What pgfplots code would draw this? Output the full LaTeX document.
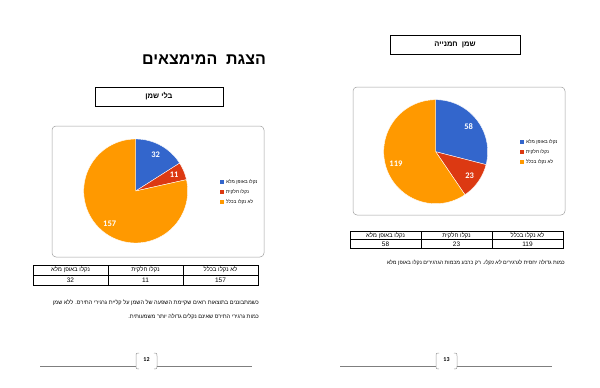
\documentclass[border=0pt]{standalone}
\usepackage{pgfplots}
\pgfplotsset{compat=1.18}
\usepackage{pgfplotstable}
\usepackage{fontspec}
\setmainfont{Liberation Sans}
\newfontfamily\heb[Script=Hebrew]{Liberation Sans}
\newfontfamily\carl{Carlito}
\TeXXeTstate=1
\definecolor{cblue}{HTML}{3366CC}
\definecolor{cred}{HTML}{DC3912}
\definecolor{corange}{HTML}{FF9900}
\definecolor{framegray}{HTML}{A0A0A0}
\definecolor{linegray}{HTML}{7F7F7F}

\pgfplotstableread{
cat value
1 32
2 11
3 157
}\leftdata
\pgfplotstableread{
cat value
1 58
2 23
3 119
}\rightdata

\newcommand{\drawpie}[3]{%
 \pgfplotstablegetelem{0}{value}\of#1\edef\pieA{\pgfplotsretval}%
 \pgfplotstablegetelem{1}{value}\of#1\edef\pieB{\pgfplotsretval}%
 \pgfplotstablegetelem{2}{value}\of#1\edef\pieC{\pgfplotsretval}%
 \pgfmathsetmacro\pieT{\pieA+\pieB+\pieC}%
 \pgfmathsetmacro\endA{90-360*(\pieA/\pieT)}%
 \pgfmathsetmacro\endB{\endA-360*(\pieB/\pieT)}%
 \pgfmathsetmacro\midA{(90+\endA)/2}%
 \pgfmathsetmacro\midB{(\endA+\endB)/2}%
 \pgfmathsetmacro\midC{(\endB-270)/2}%
 \begin{axis}[at={(#2pt,-#3pt)}, anchor=center, scale only axis,
   width=104pt, height=104pt, xmin=-1, xmax=1, ymin=-1, ymax=1,
   hide axis, clip=false]
  \addplot[fill=cblue, draw=white, line width=0.4pt, domain=\endA:90, samples=60] ({cos(x)},{sin(x)}) -- (axis cs:0,0) -- cycle;
  \addplot[fill=cred, draw=white, line width=0.4pt, domain=\endB:\endA, samples=40] ({cos(x)},{sin(x)}) -- (axis cs:0,0) -- cycle;
  \addplot[fill=corange, draw=white, line width=0.4pt, domain=-270:\endB, samples=120] ({cos(x)},{sin(x)}) -- (axis cs:0,0) -- cycle;
  \node[font=\carl\bfseries\fontsize{8.5}{9}\selectfont, text=white] at (axis cs:{0.8*cos(\midA)},{0.8*sin(\midA)}) {\pieA};
  \node[font=\carl\bfseries\fontsize{8.5}{9}\selectfont, text=white] at (axis cs:{0.8*cos(\midB)},{0.8*sin(\midB)}) {\pieB};
  \node[font=\carl\bfseries\fontsize{8.5}{9}\selectfont, text=white] at (axis cs:{0.8*cos(\midC)},{0.8*sin(\midC)}) {\pieC};
 \end{axis}}

\newcommand{\R}[1]{\beginR #1\endR}

\begin{document}
\begin{tikzpicture}
\begin{scope}[x=1pt,y=-1pt]
\fill[white] (0,0) rectangle (600,388);
\path[use as bounding box] (0,0) rectangle (600,388);

% ---------- left page ----------
\node[font=\heb\bfseries\fontsize{16}{18}\selectfont] at (204,60) {\R{הצגת\ \ המימצאים}};
\draw[line width=0.6pt] (95,87) rectangle (223,106);
\node[font=\heb\bfseries\fontsize{7.5}{8}\selectfont] at (159,96.5) {\R{בלי שמן}};
\draw[framegray, line width=0.5pt, rounded corners=4pt] (52,126) rectangle (264,257);

% legend left
\fill[cblue] (220,180) rectangle (224,184);
\fill[cred] (220,190) rectangle (224,194);
\fill[corange] (220,200) rectangle (224,204);
\node[font=\heb\fontsize{4.8}{5}\selectfont, anchor=west, inner sep=0pt] at (226,182) {\R{נקלו באופן מלא}};
\node[font=\heb\fontsize{4.8}{5}\selectfont, anchor=west, inner sep=0pt] at (226,192) {\R{נקלו חלקית}};
\node[font=\heb\fontsize{4.8}{5}\selectfont, anchor=west, inner sep=0pt] at (226,202) {\R{לא נקלו בכלל}};

% table left
\draw[line width=0.4pt] (33,265) rectangle (258,285);
\draw[line width=0.4pt] (33,275) -- (258,275);
\draw[line width=0.4pt] (108,265) -- (108,285);
\draw[line width=0.4pt] (183,265) -- (183,285);
\node[font=\heb\fontsize{6}{7}\selectfont] at (220.5,270) {\R{לא נקלו בכלל}};
\node[font=\heb\fontsize{6}{7}\selectfont] at (145.5,270) {\R{נקלו חלקית}};
\node[font=\heb\fontsize{6}{7}\selectfont] at (70.5,270) {\R{נקלו באופן מלא}};
\node[font=\fontsize{6.5}{7}\selectfont] at (220.5,280) {157};
\node[font=\fontsize{6.5}{7}\selectfont] at (145.5,280) {11};
\node[font=\fontsize{6.5}{7}\selectfont] at (70.5,280) {32};

% paragraph left
\node[font=\heb\fontsize{5.6}{7}\selectfont, anchor=east, inner sep=0pt] at (259,303) {\R{כשמתבוננים בתוצאות רואים שקיימת השפעה של השמן על קליית גרגירי התירס. ללא שמן}};
\node[font=\heb\fontsize{5.6}{7}\selectfont, anchor=east, inner sep=0pt] at (259,317) {\R{כמות גרגירי התירס שאינם נקלים גדולה יותר משמעותית.}};

% footer left
\draw[linegray, line width=0.6pt] (40,366) -- (136,366);
\draw[linegray, line width=0.6pt] (157,366) -- (252,366);
\draw[framegray, line width=0.5pt] (139,353) .. controls (136,353) .. (136,356) -- (136,366) .. controls (136,369) .. (139,369);
\draw[framegray, line width=0.5pt] (154,353) .. controls (157,353) .. (157,356) -- (157,366) .. controls (157,369) .. (154,369);
\node[font=\carl\bfseries\fontsize{6}{7}\selectfont] at (146.5,360) {12};

% ---------- right page ----------
\draw[line width=0.6pt] (390,35) rectangle (520,54);
\node[font=\heb\bfseries\fontsize{7.5}{8}\selectfont] at (455,44.5) {\R{שמן\ \ חמנייה}};
\draw[framegray, line width=0.5pt, rounded corners=4pt] (353,87) rectangle (565,215);

% legend right
\fill[cblue] (520,140) rectangle (524,144);
\fill[cred] (520,150) rectangle (524,154);
\fill[corange] (520,160) rectangle (524,164);
\node[font=\heb\fontsize{4.8}{5}\selectfont, anchor=west, inner sep=0pt] at (526,142) {\R{נקלו באופן מלא}};
\node[font=\heb\fontsize{4.8}{5}\selectfont, anchor=west, inner sep=0pt] at (526,152) {\R{נקלו חלקית}};
\node[font=\heb\fontsize{4.8}{5}\selectfont, anchor=west, inner sep=0pt] at (526,162) {\R{לא נקלו בכלל}};

% table right
\draw[line width=0.4pt] (350,231) rectangle (563,248);
\draw[line width=0.4pt] (350,239.5) -- (563,239.5);
\draw[line width=0.4pt] (421,231) -- (421,248);
\draw[line width=0.4pt] (492,231) -- (492,248);
\node[font=\heb\fontsize{6}{7}\selectfont] at (527.5,235.3) {\R{לא נקלו בכלל}};
\node[font=\heb\fontsize{6}{7}\selectfont] at (456.5,235.3) {\R{נקלו חלקית}};
\node[font=\heb\fontsize{6}{7}\selectfont] at (385.5,235.3) {\R{נקלו באופן מלא}};
\node[font=\fontsize{6.5}{7}\selectfont] at (527.5,244) {119};
\node[font=\fontsize{6.5}{7}\selectfont] at (456.5,244) {23};
\node[font=\fontsize{6.5}{7}\selectfont] at (385.5,244) {58};

% paragraph right
\node[font=\heb\fontsize{5.4}{7}\selectfont, anchor=east, inner sep=0pt] at (565,263) {\R{כמות גדולה יחסית לגרגירים {\itshape לא נקלו}. רק כרבע מכמות הגרגירים נקלו באופן מלא}};

% footer right
\draw[linegray, line width=0.6pt] (340,366) -- (436,366);
\draw[linegray, line width=0.6pt] (457,366) -- (552,366);
\draw[framegray, line width=0.5pt] (439,353) .. controls (436,353) .. (436,356) -- (436,366) .. controls (436,369) .. (439,369);
\draw[framegray, line width=0.5pt] (454,353) .. controls (457,353) .. (457,356) -- (457,366) .. controls (457,369) .. (454,369);
\node[font=\carl\bfseries\fontsize{6}{7}\selectfont] at (446.5,360) {13};
\end{scope}

\drawpie{\leftdata}{135.7}{191}
\drawpie{\rightdata}{435.7}{151.7}
\end{tikzpicture}
\end{document}
